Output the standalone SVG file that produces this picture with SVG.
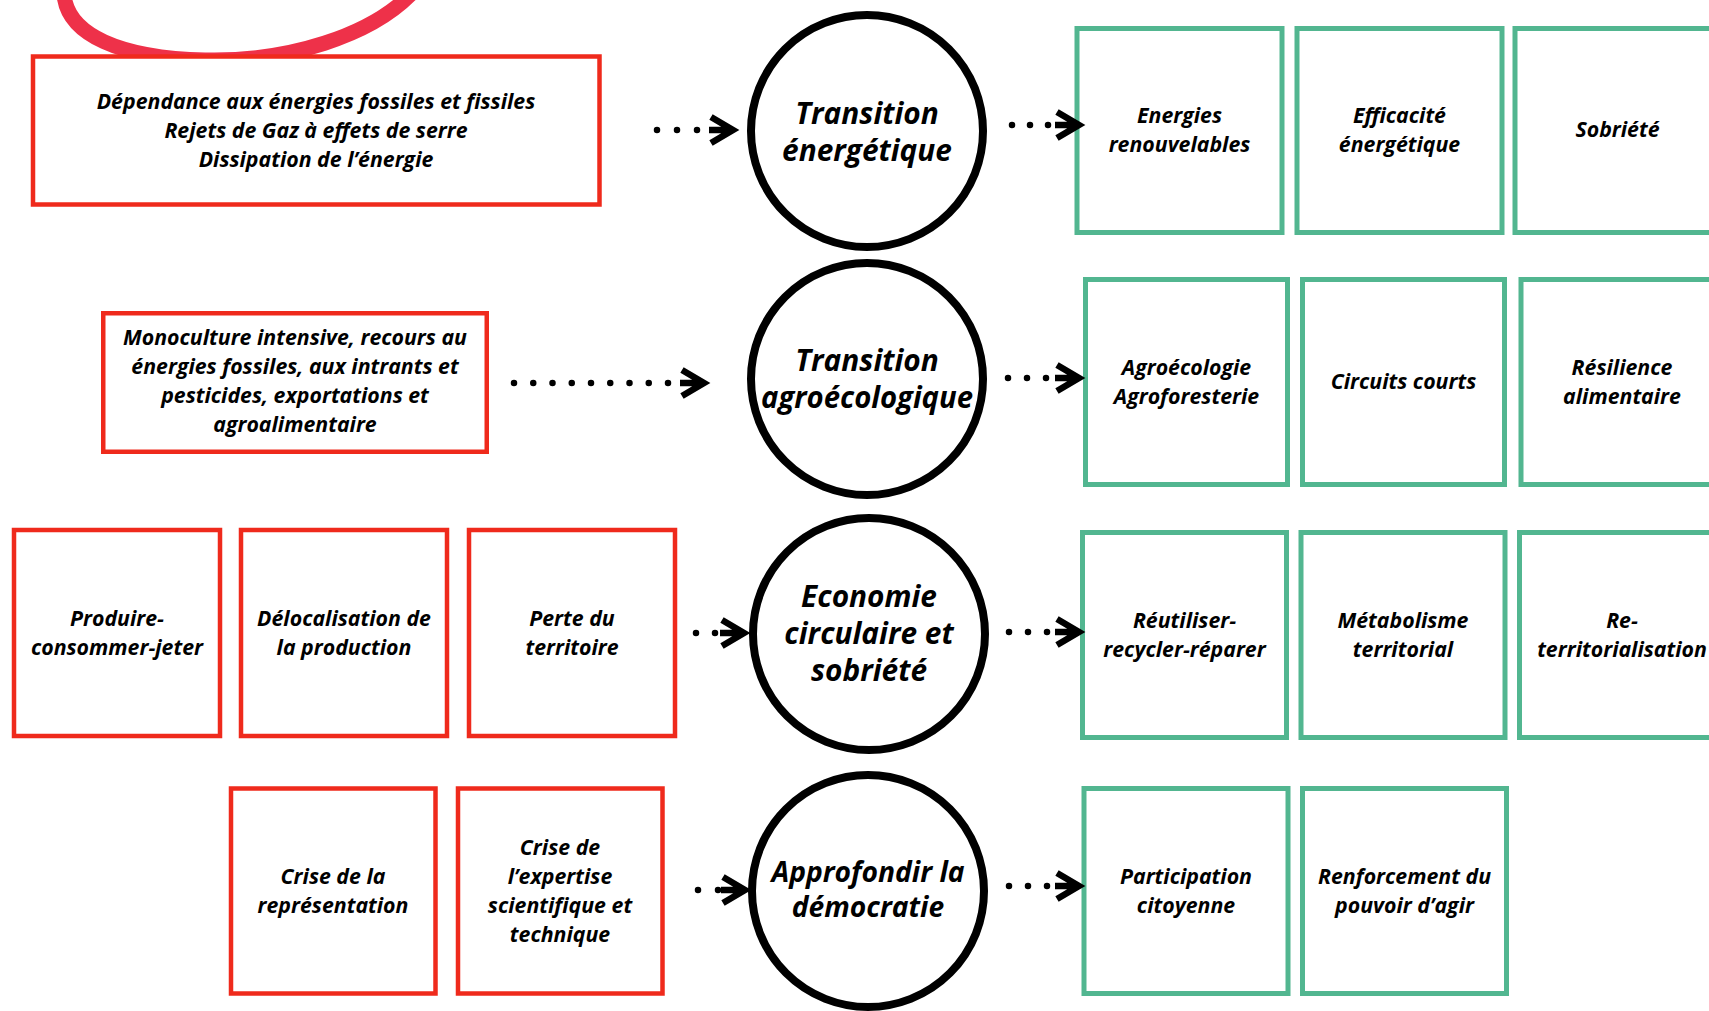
<svg xmlns="http://www.w3.org/2000/svg" width="1709" height="1011" viewBox="0 0 1709 1011">
<style>
.bg{fill:#ffffff}
.red rect{fill:#ffffff;stroke:#ef2a1c;stroke-width:4.5}
.green rect{fill:#ffffff;stroke:#52b690;stroke-width:5}
.hub circle{fill:#ffffff;stroke:#000000;stroke-width:8}
text{font-family:"Open Sans",Lato,"DejaVu Sans",sans-serif;font-weight:bold;font-style:italic;fill:#000000;text-anchor:middle}
.t{font-size:21.3px}
.h{font-size:29.8px}
.h4{font-size:28.2px}
.dots{stroke:#000000;stroke-width:6.5;stroke-linecap:round;fill:none}
.head{stroke:#000000;stroke-width:6.5;fill:none;stroke-linejoin:miter;stroke-linecap:butt}
.mark{fill:none;stroke:#ee3149;stroke-width:15;stroke-linecap:round}
</style>
<defs>
<g id="ah"><path class="head" d="M-24,-13 L-2,0 L-24,13 M-26,0 L-2,0"/></g>
</defs>
<rect class="bg" x="0" y="0" width="1709" height="1011"/>
<path class="mark" d="M64,-5 C68,35 120,58 205,60 C290,62 370,35 410,-5"/>

<g id="problem-energie" class="red">
<rect x="33" y="56.5" width="566.5" height="148"/>
<text class="t" x="316" y="108.5">Dépendance aux énergies fossiles et fissiles</text>
<text class="t" x="316" y="137.5">Rejets de Gaz à effets de serre</text>
<text class="t" x="316" y="166.5">Dissipation de l’énergie</text>
</g>
<g id="hub-energie" class="hub">
<circle cx="867" cy="131" r="116"/>
<text class="h" x="867" y="123.5">Transition</text>
<text class="h" x="867" y="160.5">énergétique</text>
</g>
<g id="sol-enr" class="green">
<rect x="1077" y="28.5" width="205" height="204"/>
<text class="t" x="1179.5" y="123">Energies</text>
<text class="t" x="1179.5" y="152">renouvelables</text>
</g>
<g id="sol-efficacite" class="green">
<rect x="1297" y="28.5" width="205" height="204"/>
<text class="t" x="1399.5" y="123">Efficacité</text>
<text class="t" x="1399.5" y="152">énergétique</text>
</g>
<g id="sol-sobriete" class="green">
<rect x="1515" y="28.5" width="205" height="204"/>
<text class="t" x="1617.5" y="137">Sobriété</text>
</g>

<g id="problem-agro" class="red">
<rect x="103.25" y="313.25" width="383.5" height="138.5"/>
<text class="t" x="295" y="345">Monoculture intensive, recours au</text>
<text class="t" x="295" y="374">énergies fossiles, aux intrants et</text>
<text class="t" x="295" y="403">pesticides, exportations et</text>
<text class="t" x="295" y="432">agroalimentaire</text>
</g>
<g id="hub-agro" class="hub">
<circle cx="867" cy="379" r="116"/>
<text class="h" x="867" y="370.5">Transition</text>
<text class="h" x="867" y="407.5" textLength="212" lengthAdjust="spacingAndGlyphs">agroécologique</text>
</g>
<g id="sol-agroeco" class="green">
<rect x="1085.5" y="279.5" width="202" height="205"/>
<text class="t" x="1186.5" y="374.5">Agroécologie</text>
<text class="t" x="1186.5" y="403.5">Agroforesterie</text>
</g>
<g id="sol-circuits" class="green">
<rect x="1302.5" y="279.5" width="202" height="205"/>
<text class="t" x="1403.5" y="389">Circuits courts</text>
</g>
<g id="sol-resilience" class="green">
<rect x="1521" y="279.5" width="202" height="205"/>
<text class="t" x="1622" y="374.5">Résilience</text>
<text class="t" x="1622" y="403.5">alimentaire</text>
</g>

<g id="problem-jeter" class="red">
<rect x="14" y="530" width="206" height="206"/>
<text class="t" x="117" y="625.5">Produire-</text>
<text class="t" x="117" y="654.5">consommer-jeter</text>
</g>
<g id="problem-delocalisation" class="red">
<rect x="241" y="530" width="206" height="206"/>
<text class="t" x="344" y="625.5">Délocalisation de</text>
<text class="t" x="344" y="654.5">la production</text>
</g>
<g id="problem-territoire" class="red">
<rect x="469" y="530" width="206" height="206"/>
<text class="t" x="572" y="625.5">Perte du</text>
<text class="t" x="572" y="654.5">territoire</text>
</g>
<g id="hub-circulaire" class="hub">
<circle cx="869" cy="634" r="116"/>
<text class="h" x="869" y="607">Economie</text>
<text class="h" x="869" y="644">circulaire et</text>
<text class="h" x="869" y="681">sobriété</text>
</g>
<g id="sol-reutiliser" class="green">
<rect x="1082.5" y="532.5" width="204" height="205"/>
<text class="t" x="1184.5" y="627.5">Réutiliser-</text>
<text class="t" x="1184.5" y="656.5">recycler-réparer</text>
</g>
<g id="sol-metabolisme" class="green">
<rect x="1301" y="532.5" width="204" height="205"/>
<text class="t" x="1403" y="627.5">Métabolisme</text>
<text class="t" x="1403" y="656.5">territorial</text>
</g>
<g id="sol-reterritorialisation" class="green">
<rect x="1519.5" y="532.5" width="204" height="205"/>
<text class="t" x="1622" y="627.5">Re-</text>
<text class="t" x="1622" y="656.5">territorialisation</text>
</g>

<g id="problem-representation" class="red">
<rect x="231" y="788.5" width="204.5" height="205"/>
<text class="t" x="333" y="883.5">Crise de la</text>
<text class="t" x="333" y="912.5">représentation</text>
</g>
<g id="problem-expertise" class="red">
<rect x="458" y="788.5" width="204.5" height="205"/>
<text class="t" x="560" y="854.5">Crise de</text>
<text class="t" x="560" y="883.5">l’expertise</text>
<text class="t" x="560" y="912.5">scientifique et</text>
<text class="t" x="560" y="941.5">technique</text>
</g>
<g id="hub-democratie" class="hub">
<circle cx="868" cy="891" r="116"/>
<text class="h4" x="868" y="882">Approfondir la</text>
<text class="h4" x="868" y="917">démocratie</text>
</g>
<g id="sol-participation" class="green">
<rect x="1084" y="788.5" width="204" height="205"/>
<text class="t" x="1186" y="883.5">Participation</text>
<text class="t" x="1186" y="912.5">citoyenne</text>
</g>
<g id="sol-pouvoir" class="green">
<rect x="1302.5" y="788.5" width="204" height="205"/>
<text class="t" x="1404.5" y="883.5">Renforcement du</text>
<text class="t" x="1404.5" y="912.5">pouvoir d’agir</text>
</g>

<g id="connectors">
<line class="dots" x1="657" y1="130" x2="698" y2="130" stroke-dasharray="0 20"/>
<use href="#ah" x="735" y="130"/>
<line class="dots" x1="1012" y1="125" x2="1049" y2="125" stroke-dasharray="0 18"/>
<use href="#ah" x="1081" y="125"/>
<line class="dots" x1="514" y1="383" x2="669" y2="383" stroke-dasharray="0 19.25"/>
<use href="#ah" x="706" y="383"/>
<line class="dots" x1="1008" y1="378" x2="1047" y2="378" stroke-dasharray="0 19"/>
<use href="#ah" x="1081" y="378"/>
<line class="dots" x1="696" y1="633" x2="716" y2="633" stroke-dasharray="0 19"/>
<use href="#ah" x="746" y="633"/>
<line class="dots" x1="1009" y1="632" x2="1048" y2="632" stroke-dasharray="0 19"/>
<use href="#ah" x="1081" y="632"/>
<line class="dots" x1="698" y1="890" x2="719" y2="890" stroke-dasharray="0 20"/>
<use href="#ah" x="747" y="890"/>
<line class="dots" x1="1009" y1="886" x2="1048" y2="886" stroke-dasharray="0 19"/>
<use href="#ah" x="1081" y="886"/>
</g>
</svg>
